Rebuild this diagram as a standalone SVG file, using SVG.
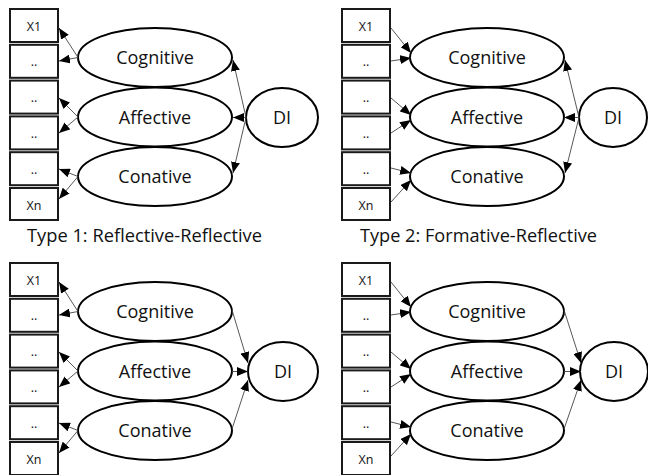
<svg xmlns="http://www.w3.org/2000/svg" width="648" height="475" viewBox="0 0 648 475">
<defs>
<marker id="ah" markerUnits="userSpaceOnUse" markerWidth="11" markerHeight="9" refX="11" refY="4.5" orient="auto">
<path d="M0,0 L11,4.5 L0,9 z" fill="#000"/>
</marker>
<style>
.box{fill:#fff;stroke:#1a1a1a;stroke-width:2}
.ell{fill:#fff;stroke:#000;stroke-width:2}
.con line{stroke:#444;stroke-width:0.9;marker-end:url(#ah)}
text{font-family:"Open Sans","Noto Sans","Liberation Sans",sans-serif;fill:#111;text-anchor:middle}
.s{font-size:12.5px}
.m{font-size:18px}
.cap{font-size:17.5px;text-anchor:start}
</style>
</defs>
<rect width="648" height="475" fill="#fff"/>

<!-- Panel 1: Reflective-Reflective -->
<g id="panel1">
<g id="p1-x1"><rect class="box" x="10" y="9" width="48" height="33"/><text class="s" x="34" y="31">X1</text></g>
<g id="p1-x2"><rect class="box" x="10" y="44.8" width="48" height="33"/><text class="s" x="34" y="66">..</text></g>
<g id="p1-x3"><rect class="box" x="10" y="80.6" width="48" height="33"/><text class="s" x="34" y="102">..</text></g>
<g id="p1-x4"><rect class="box" x="10" y="116.4" width="48" height="33"/><text class="s" x="34" y="138">..</text></g>
<g id="p1-x5"><rect class="box" x="10" y="152.2" width="48" height="33"/><text class="s" x="34" y="174">..</text></g>
<g id="p1-xn"><rect class="box" x="10" y="188" width="48" height="32"/><text class="s" x="34" y="210">Xn</text></g>
<g id="p1-cog"><ellipse class="ell" cx="155" cy="57.5" rx="77" ry="29.5"/><text class="m" x="155" y="64">Cognitive</text></g>
<g id="p1-aff"><ellipse class="ell" cx="155" cy="117" rx="77" ry="29.5"/><text class="m" x="155" y="123.5">Affective</text></g>
<g id="p1-con"><ellipse class="ell" cx="155" cy="176.5" rx="77" ry="29.5"/><text class="m" x="155" y="183">Conative</text></g>
<g id="p1-di"><ellipse class="ell" cx="282" cy="117.5" rx="36" ry="29.5"/><text class="m" x="282" y="124">DI</text></g>
<g id="p1-connectors" class="con">
<line x1="78" y1="57.5" x2="59" y2="28"/>
<line x1="78" y1="57.5" x2="59" y2="61"/>
<line x1="78" y1="117" x2="59" y2="98"/>
<line x1="78" y1="117" x2="59" y2="133"/>
<line x1="78" y1="176.5" x2="59" y2="169"/>
<line x1="78" y1="176.5" x2="59" y2="199"/>
<line x1="246" y1="117.5" x2="233" y2="60"/>
<line x1="246" y1="117.5" x2="233" y2="117.5"/>
<line x1="246" y1="117.5" x2="233" y2="173"/>
</g>
<text class="cap" x="27" y="242" textLength="235" lengthAdjust="spacingAndGlyphs">Type 1: Reflective-Reflective</text>
</g>

<!-- Panel 2: Formative-Reflective -->
<g id="panel2" transform="translate(332,0)">
<g id="p2-x1"><rect class="box" x="10" y="9" width="48" height="33"/><text class="s" x="34" y="31">X1</text></g>
<g id="p2-x2"><rect class="box" x="10" y="44.8" width="48" height="33"/><text class="s" x="34" y="66">..</text></g>
<g id="p2-x3"><rect class="box" x="10" y="80.6" width="48" height="33"/><text class="s" x="34" y="102">..</text></g>
<g id="p2-x4"><rect class="box" x="10" y="116.4" width="48" height="33"/><text class="s" x="34" y="138">..</text></g>
<g id="p2-x5"><rect class="box" x="10" y="152.2" width="48" height="33"/><text class="s" x="34" y="174">..</text></g>
<g id="p2-xn"><rect class="box" x="10" y="188" width="48" height="32"/><text class="s" x="34" y="210">Xn</text></g>
<g id="p2-cog"><ellipse class="ell" cx="155" cy="57.5" rx="77" ry="29.5"/><text class="m" x="155" y="64">Cognitive</text></g>
<g id="p2-aff"><ellipse class="ell" cx="155" cy="117" rx="77" ry="29.5"/><text class="m" x="155" y="123.5">Affective</text></g>
<g id="p2-con"><ellipse class="ell" cx="155" cy="176.5" rx="77" ry="29.5"/><text class="m" x="155" y="183">Conative</text></g>
<g id="p2-di"><ellipse class="ell" cx="281" cy="117.5" rx="34" ry="29.5"/><text class="m" x="281" y="124">DI</text></g>
<g id="p2-connectors" class="con">
<line x1="59" y1="28" x2="79" y2="53"/>
<line x1="59" y1="61" x2="79" y2="58"/>
<line x1="59" y1="98" x2="79" y2="115"/>
<line x1="59" y1="133" x2="79" y2="120"/>
<line x1="59" y1="168" x2="79" y2="173"/>
<line x1="59" y1="202" x2="79" y2="180"/>
<line x1="247" y1="117.5" x2="233" y2="60"/>
<line x1="247" y1="117.5" x2="232" y2="117.5"/>
<line x1="247" y1="117.5" x2="233" y2="173"/>
</g>
<text class="cap" x="28" y="242" textLength="237" lengthAdjust="spacingAndGlyphs">Type 2: Formative-Reflective</text>
</g>

<!-- Panel 3: Reflective-Formative -->
<g id="panel3" transform="translate(0,254)">
<g id="p3-x1"><rect class="box" x="10" y="9" width="48" height="33"/><text class="s" x="34" y="31">X1</text></g>
<g id="p3-x2"><rect class="box" x="10" y="44.8" width="48" height="33"/><text class="s" x="34" y="66">..</text></g>
<g id="p3-x3"><rect class="box" x="10" y="80.6" width="48" height="33"/><text class="s" x="34" y="102">..</text></g>
<g id="p3-x4"><rect class="box" x="10" y="116.4" width="48" height="33"/><text class="s" x="34" y="138">..</text></g>
<g id="p3-x5"><rect class="box" x="10" y="152.2" width="48" height="33"/><text class="s" x="34" y="174">..</text></g>
<g id="p3-xn"><rect class="box" x="10" y="188" width="48" height="33"/><text class="s" x="34" y="210">Xn</text></g>
<g id="p3-cog"><ellipse class="ell" cx="155" cy="57.5" rx="77" ry="29.5"/><text class="m" x="155" y="64">Cognitive</text></g>
<g id="p3-aff"><ellipse class="ell" cx="155" cy="117" rx="77" ry="29.5"/><text class="m" x="155" y="123.5">Affective</text></g>
<g id="p3-con"><ellipse class="ell" cx="155" cy="176.5" rx="77" ry="29.5"/><text class="m" x="155" y="183">Conative</text></g>
<g id="p3-di"><ellipse class="ell" cx="283" cy="117.5" rx="35" ry="29.5"/><text class="m" x="283" y="124">DI</text></g>
<g id="p3-connectors" class="con">
<line x1="78" y1="57.5" x2="59" y2="28"/>
<line x1="78" y1="57.5" x2="59" y2="61"/>
<line x1="78" y1="117" x2="59" y2="98"/>
<line x1="78" y1="117" x2="59" y2="133"/>
<line x1="78" y1="176.5" x2="59" y2="169"/>
<line x1="78" y1="176.5" x2="59" y2="199"/>
<line x1="232" y1="56" x2="248" y2="109"/>
<line x1="232" y1="117.5" x2="248" y2="117.5"/>
<line x1="232" y1="175" x2="248" y2="126"/>
</g>
</g>

<!-- Panel 4: Formative-Formative -->
<g id="panel4" transform="translate(332,254)">
<g id="p4-x1"><rect class="box" x="10" y="9" width="48" height="33"/><text class="s" x="34" y="31">X1</text></g>
<g id="p4-x2"><rect class="box" x="10" y="44.8" width="48" height="33"/><text class="s" x="34" y="66">..</text></g>
<g id="p4-x3"><rect class="box" x="10" y="80.6" width="48" height="33"/><text class="s" x="34" y="102">..</text></g>
<g id="p4-x4"><rect class="box" x="10" y="116.4" width="48" height="33"/><text class="s" x="34" y="138">..</text></g>
<g id="p4-x5"><rect class="box" x="10" y="152.2" width="48" height="33"/><text class="s" x="34" y="174">..</text></g>
<g id="p4-xn"><rect class="box" x="10" y="188" width="48" height="33"/><text class="s" x="34" y="210">Xn</text></g>
<g id="p4-cog"><ellipse class="ell" cx="155" cy="57.5" rx="77" ry="29.5"/><text class="m" x="155" y="64">Cognitive</text></g>
<g id="p4-aff"><ellipse class="ell" cx="155" cy="117" rx="77" ry="29.5"/><text class="m" x="155" y="123.5">Affective</text></g>
<g id="p4-con"><ellipse class="ell" cx="155" cy="176.5" rx="77" ry="29.5"/><text class="m" x="155" y="183">Conative</text></g>
<g id="p4-di"><ellipse class="ell" cx="282" cy="117.5" rx="34" ry="29.5"/><text class="m" x="282" y="124">DI</text></g>
<g id="p4-connectors" class="con">
<line x1="59" y1="28" x2="79" y2="53"/>
<line x1="59" y1="61" x2="79" y2="58"/>
<line x1="59" y1="98" x2="79" y2="115"/>
<line x1="59" y1="133" x2="79" y2="120"/>
<line x1="59" y1="168" x2="79" y2="173"/>
<line x1="59" y1="202" x2="79" y2="180"/>
<line x1="232" y1="56" x2="249" y2="109"/>
<line x1="232" y1="117.5" x2="249" y2="117.5"/>
<line x1="232" y1="175" x2="249" y2="126"/>
</g>
</g>
</svg>
